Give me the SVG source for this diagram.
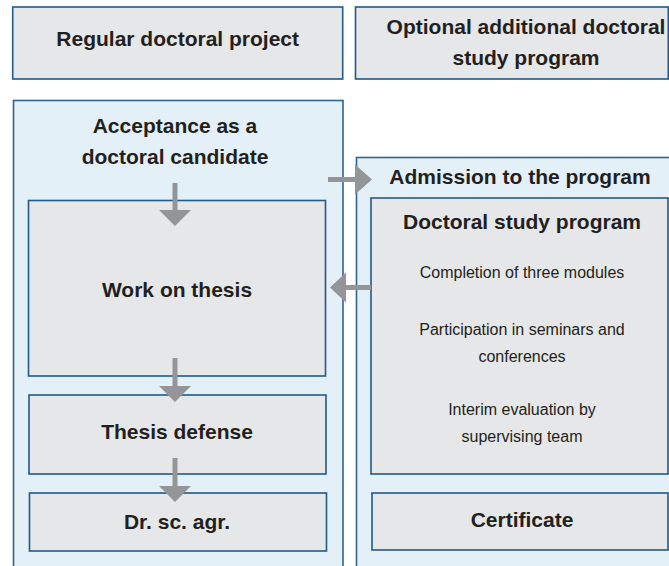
<svg xmlns="http://www.w3.org/2000/svg" width="669" height="566" viewBox="0 0 669 566">
<style>
.box{fill:#e6e7e8;stroke:#1f5a8a;stroke-width:1.6}
.cont{fill:#e3f0f7;stroke:#2f6590;stroke-width:1.6}
.b{font-family:"Liberation Sans",Arial,sans-serif;font-weight:bold;font-size:21px;fill:#231f20;text-anchor:middle}
.r{font-family:"Liberation Sans",Arial,sans-serif;font-size:16px;fill:#231f20;text-anchor:middle}
.arr{fill:#939598}
</style>
<rect width="669" height="566" fill="#ffffff"/>
<g id="top-regular">
<rect class="box" x="12.7" y="7" width="330" height="72"/>
<text class="b" x="177.7" y="46">Regular doctoral project</text>
</g>
<g id="top-optional">
<rect class="box" x="355.5" y="7" width="312.8" height="72"/>
<text class="b" x="526" y="34">Optional additional doctoral</text>
<text class="b" x="526" y="65">study program</text>
</g>
<g id="acceptance">
<rect class="cont" x="13.5" y="100.5" width="329.5" height="480"/>
<text class="b" x="175" y="133">Acceptance as a</text>
<text class="b" x="175" y="164">doctoral candidate</text>
</g>
<g id="admission">
<rect class="cont" x="356.5" y="157.5" width="330" height="420"/>
<text class="b" x="520" y="184">Admission to the program</text>
</g>
<g id="work">
<rect class="box" x="28.5" y="200.5" width="297" height="175.5"/>
<text class="b" x="177" y="297">Work on thesis</text>
</g>
<g id="defense">
<rect class="box" x="29" y="395" width="297" height="79"/>
<text class="b" x="177" y="439">Thesis defense</text>
</g>
<g id="degree">
<rect class="box" x="29.5" y="493" width="297" height="58"/>
<text class="b" x="177" y="529">Dr. sc. agr.</text>
</g>
<g id="study-program">
<rect class="box" x="371" y="198" width="297" height="276"/>
<text class="b" x="522" y="229">Doctoral study program</text>
<text class="r" x="522" y="278">Completion of three modules</text>
<text class="r" x="522" y="335">Participation in seminars and</text>
<text class="r" x="522" y="362">conferences</text>
<text class="r" x="522" y="415">Interim evaluation by</text>
<text class="r" x="522" y="442">supervising team</text>
</g>
<g id="certificate">
<rect class="box" x="372" y="493" width="296" height="57"/>
<text class="b" x="522" y="527">Certificate</text>
</g>
<g id="connectors">
<polygon class="arr" points="172.5,183 177.5,183 177.5,210 191,210 175,226 159,210 172.5,210"/>
<polygon class="arr" points="172.5,358 177.5,358 177.5,386 191,386 175,402 159,386 172.5,386"/>
<polygon class="arr" points="172.5,458 177.5,458 177.5,486 191,486 175,502 159,486 172.5,486"/>
<polygon class="arr" points="328,177 355,177 355,164.5 372,179.5 355,194.5 355,182 328,182"/>
<polygon class="arr" points="371,285 346,285 346,272.5 330,287.5 346,302.5 346,290 371,290"/>
</g>
</svg>
